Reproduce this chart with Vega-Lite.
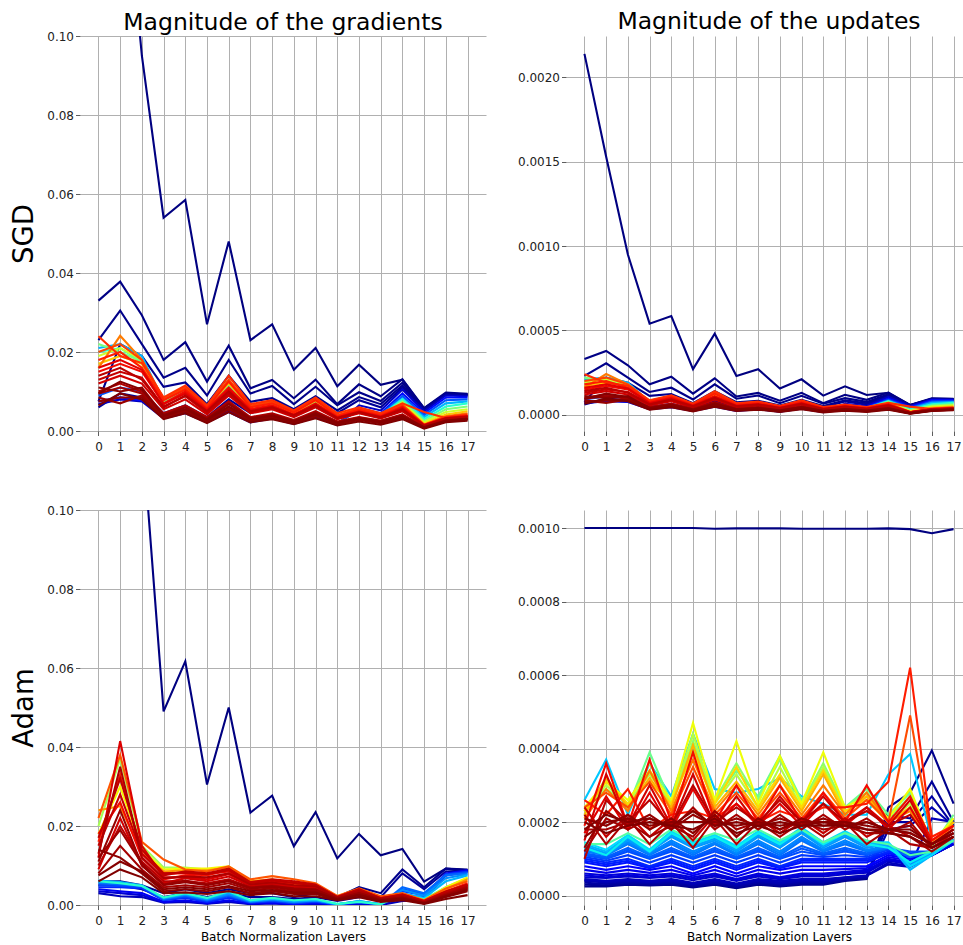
{
"$schema":"https://vega.github.io/schema/vega-lite/v6.json",
"background":"white",
"padding":{"left":10,"top":9,"right":0,"bottom":0},
"data":{"values":[
{"p":"gs","c":0,"x":[0,1,2,3,4,5,6,7,8,9,10,11,12,13,14,15,16,17],"y":[0.214,0.153,0.095,0.054,0.0585,0.027,0.048,0.023,0.027,0.0155,0.021,0.0113,0.0168,0.0117,0.013,0.0056,0.0093,0.0092]},
{"p":"gs","c":0.004,"x":[0,1,2,3,4,5,6,7,8,9,10,11,12,13,14,15,16,17],"y":[0.033,0.0378,0.0293,0.018,0.0225,0.0125,0.0216,0.0108,0.0129,0.0083,0.013,0.0068,0.0118,0.0088,0.0131,0.0058,0.0097,0.0094]},
{"p":"gs","c":0.008,"x":[0,1,2,3,4,5,6,7,8,9,10,11,12,13,14,15,16,17],"y":[0.023,0.0305,0.022,0.0135,0.016,0.009,0.018,0.0095,0.0114,0.0068,0.0112,0.0065,0.0098,0.0076,0.0122,0.0057,0.0095,0.0093]},
{"p":"gs","c":0.012,"x":[0,1,2,3,4,5,6,7,8,9,10,11,12,13,14,15,16,17],"y":[0.0075,0.022,0.019,0.0112,0.0123,0.0068,0.014,0.0074,0.0083,0.0055,0.0088,0.0052,0.0086,0.0068,0.0115,0.0055,0.0093,0.0092]},
{"p":"gs","c":0.02,"x":[0,1,2,3,4,5,6,7,8,9,10,11,12,13,14,15,16,17],"y":[0.006,0.0095,0.0085,0.0045,0.0065,0.0035,0.008,0.0045,0.006,0.0042,0.0075,0.0045,0.0078,0.006,0.011,0.0054,0.0092,0.009]},
{"p":"gs","c":0.06,"x":[0,1,2,3,4,5,6,7,8,9,10,11,12,13,14,15,16,17],"y":[0.0068,0.008,0.0075,0.0032,0.0045,0.0022,0.0048,0.0022,0.0032,0.0018,0.0035,0.0015,0.0065,0.0052,0.0105,0.005,0.009,0.0088]},
{"p":"gs","c":0.12,"x":[0,1,2,3,4,5,6,7,8,9,10,11,12,13,14,15,16,17],"y":[0.0075,0.0085,0.0078,0.004,0.005,0.0025,0.005,0.0025,0.0035,0.002,0.0038,0.0018,0.0058,0.0045,0.0095,0.0045,0.0085,0.0085]},
{"p":"gs","c":0.2,"x":[0,1,2,3,4,5,6,7,8,9,10,11,12,13,14,15,16,17],"y":[0.009,0.011,0.01,0.0045,0.0055,0.003,0.006,0.003,0.004,0.0025,0.0045,0.002,0.0052,0.0042,0.0088,0.004,0.0078,0.008]},
{"p":"gs","c":0.3,"x":[0,1,2,3,4,5,6,7,8,9,10,11,12,13,14,15,16,17],"y":[0.021,0.022,0.019,0.0075,0.0105,0.006,0.012,0.0058,0.007,0.0045,0.0075,0.0038,0.0055,0.004,0.0082,0.0035,0.007,0.0075]},
{"p":"gs","c":0.4,"x":[0,1,2,3,4,5,6,7,8,9,10,11,12,13,14,15,16,17],"y":[0.02,0.021,0.0175,0.007,0.01,0.0055,0.0115,0.0055,0.0068,0.0042,0.0072,0.0035,0.005,0.0038,0.008,0.003,0.0062,0.007]},
{"p":"gs","c":0.5,"x":[0,1,2,3,4,5,6,7,8,9,10,11,12,13,14,15,16,17],"y":[0.022,0.02,0.0175,0.0075,0.0105,0.006,0.012,0.006,0.007,0.0045,0.0075,0.0037,0.005,0.0038,0.0075,0.0025,0.0055,0.0062]},
{"p":"gs","c":0.6,"x":[0,1,2,3,4,5,6,7,8,9,10,11,12,13,14,15,16,17],"y":[0.019,0.021,0.018,0.008,0.011,0.0062,0.0125,0.0062,0.0072,0.0047,0.0078,0.0038,0.0052,0.004,0.0072,0.0022,0.0048,0.0055]},
{"p":"gs","c":0.7,"x":[0,1,2,3,4,5,6,7,8,9,10,11,12,13,14,15,16,17],"y":[0.017,0.019,0.017,0.0078,0.0108,0.006,0.012,0.006,0.007,0.0046,0.0077,0.0037,0.0055,0.0042,0.0068,0.0018,0.0042,0.005]},
{"p":"gs","c":0.78,"x":[0,1,2,3,4,5,6,7,8,9,10,11,12,13,14,15,16,17],"y":[0.016,0.0241,0.018,0.008,0.0112,0.006,0.0128,0.0062,0.0073,0.0048,0.008,0.0039,0.0056,0.0042,0.0065,0.0015,0.0037,0.0045]},
{"p":"gs","c":0.84,"x":[0,1,2,3,4,5,6,7,8,9,10,11,12,13,14,15,16,17],"y":[0.02,0.022,0.018,0.0082,0.011,0.0062,0.013,0.0064,0.0075,0.005,0.0082,0.004,0.0057,0.0043,0.0066,0.0016,0.0036,0.0042]},
{"p":"gs","c":0.86,"x":[0,1,2,3,4,5,6,7,8,9,10,11,12,13,14,15,16,17],"y":[0.024,0.019,0.0172,0.0085,0.0115,0.0065,0.014,0.0068,0.0078,0.0052,0.0085,0.0045,0.006,0.0045,0.007,0.0048,0.0033,0.0038]},
{"p":"gs","c":0.88,"x":[0,1,2,3,4,5,6,7,8,9,10,11,12,13,14,15,16,17],"y":[0.018,0.02,0.016,0.0078,0.0105,0.0058,0.0125,0.006,0.007,0.0047,0.0078,0.0038,0.0054,0.004,0.0062,0.0015,0.0034,0.004]},
{"p":"gs","c":0.9,"x":[0,1,2,3,4,5,6,7,8,9,10,11,12,13,14,15,16,17],"y":[0.015,0.017,0.015,0.007,0.01,0.0055,0.011,0.0055,0.0065,0.0042,0.007,0.0035,0.005,0.0037,0.006,0.0015,0.0033,0.0038]},
{"p":"gs","c":0.915,"x":[0,1,2,3,4,5,6,7,8,9,10,11,12,13,14,15,16,17],"y":[0.016,0.018,0.0155,0.0068,0.0095,0.0052,0.0105,0.0052,0.0062,0.004,0.0068,0.0034,0.0049,0.0036,0.0058,0.0014,0.0032,0.0037]},
{"p":"gs","c":0.93,"x":[0,1,2,3,4,5,6,7,8,9,10,11,12,13,14,15,16,17],"y":[0.012,0.014,0.012,0.0055,0.008,0.0042,0.009,0.0045,0.0055,0.0035,0.006,0.003,0.0045,0.0032,0.005,0.0012,0.003,0.0035]},
{"p":"gs","c":0.94,"x":[0,1,2,3,4,5,6,7,8,9,10,11,12,13,14,15,16,17],"y":[0.013,0.015,0.0135,0.0062,0.0088,0.0046,0.0095,0.0048,0.0058,0.0037,0.0062,0.0031,0.0046,0.0033,0.0052,0.0013,0.0031,0.0036]},
{"p":"gs","c":0.95,"x":[0,1,2,3,4,5,6,7,8,9,10,11,12,13,14,15,16,17],"y":[0.014,0.016,0.013,0.006,0.009,0.005,0.01,0.005,0.006,0.004,0.0065,0.0033,0.0048,0.0035,0.0055,0.0014,0.0032,0.0036]},
{"p":"gs","c":0.96,"x":[0,1,2,3,4,5,6,7,8,9,10,11,12,13,14,15,16,17],"y":[0.01,0.012,0.01,0.0045,0.0065,0.0035,0.0075,0.0035,0.0045,0.0028,0.005,0.0024,0.0035,0.0026,0.0042,0.001,0.0027,0.0032]},
{"p":"gs","c":0.97,"x":[0,1,2,3,4,5,6,7,8,9,10,11,12,13,14,15,16,17],"y":[0.0095,0.011,0.0095,0.0042,0.006,0.0032,0.007,0.0033,0.0042,0.0026,0.0047,0.0022,0.0034,0.0025,0.004,0.001,0.0027,0.0031]},
{"p":"gs","c":0.98,"x":[0,1,2,3,4,5,6,7,8,9,10,11,12,13,14,15,16,17],"y":[0.0085,0.007,0.009,0.0035,0.0052,0.0025,0.006,0.0028,0.0035,0.0022,0.004,0.0018,0.003,0.0021,0.0035,0.0008,0.0025,0.003]},
{"p":"gs","c":0.985,"x":[0,1,2,3,4,5,6,7,8,9,10,11,12,13,14,15,16,17],"y":[0.0075,0.0085,0.0085,0.0033,0.005,0.0023,0.0055,0.0026,0.0033,0.002,0.0037,0.0017,0.0028,0.002,0.0033,0.0008,0.0024,0.0029]},
{"p":"gs","c":0.99,"x":[0,1,2,3,4,5,6,7,8,9,10,11,12,13,14,15,16,17],"y":[0.011,0.01,0.011,0.004,0.006,0.003,0.0068,0.0032,0.004,0.0025,0.0045,0.0021,0.0033,0.0024,0.0038,0.0009,0.0026,0.0031]},
{"p":"gs","c":0.995,"x":[0,1,2,3,4,5,6,7,8,9,10,11,12,13,14,15,16,17],"y":[0.0095,0.0125,0.0105,0.0038,0.0055,0.0028,0.0062,0.003,0.0038,0.0023,0.0042,0.002,0.0031,0.0022,0.0036,0.0009,0.0025,0.003]},
{"p":"gs","c":1.0,"x":[0,1,2,3,4,5,6,7,8,9,10,11,12,13,14,15,16,17],"y":[0.0065,0.0095,0.008,0.003,0.0045,0.002,0.0048,0.0022,0.003,0.0017,0.0032,0.0014,0.0024,0.0016,0.003,0.0006,0.0022,0.0026]},
{"p":"us","c":0,"x":[0,1,2,3,4,5,6,7,8,9,10,11,12,13,14,15,16,17],"y":[0.00214,0.00153,0.00095,0.00054,0.000585,0.00027,0.00048,0.00023,0.00027,0.000155,0.00021,0.000113,0.000168,0.000117,0.00013,0.000056,0.000093,0.000092]},
{"p":"us","c":0.004,"x":[0,1,2,3,4,5,6,7,8,9,10,11,12,13,14,15,16,17],"y":[0.00033,0.000378,0.000293,0.00018,0.000225,0.000125,0.000216,0.000108,0.000129,0.000083,0.00013,0.000068,0.000118,0.000088,0.000131,0.000058,0.000097,0.000094]},
{"p":"us","c":0.008,"x":[0,1,2,3,4,5,6,7,8,9,10,11,12,13,14,15,16,17],"y":[0.00023,0.000305,0.00022,0.000135,0.00016,0.00009,0.00018,0.000095,0.000114,0.000068,0.000112,0.000065,0.000098,0.000076,0.000122,0.000057,0.000095,0.000093]},
{"p":"us","c":0.012,"x":[0,1,2,3,4,5,6,7,8,9,10,11,12,13,14,15,16,17],"y":[0.000075,0.00022,0.00019,0.000112,0.000123,0.000068,0.00014,0.000074,0.000083,0.000055,0.000088,0.000052,0.000086,0.000068,0.000115,0.000055,0.000093,0.000092]},
{"p":"us","c":0.02,"x":[0,1,2,3,4,5,6,7,8,9,10,11,12,13,14,15,16,17],"y":[0.00006,0.000095,0.000085,0.000045,0.000065,0.000035,0.00008,0.000045,0.00006,0.000042,0.000075,0.000045,0.000078,0.00006,0.00011,0.000054,0.000092,0.00009]},
{"p":"us","c":0.06,"x":[0,1,2,3,4,5,6,7,8,9,10,11,12,13,14,15,16,17],"y":[0.000068,0.00008,0.000075,0.000032,0.000045,0.000022,0.000048,0.000022,0.000032,0.000018,0.000035,0.000015,0.000065,0.000052,0.000105,0.00005,0.00009,0.000088]},
{"p":"us","c":0.12,"x":[0,1,2,3,4,5,6,7,8,9,10,11,12,13,14,15,16,17],"y":[0.000075,0.000085,0.000078,0.00004,0.00005,0.000025,0.00005,0.000025,0.000035,0.00002,0.000038,0.000018,0.000058,0.000045,0.000095,0.000045,0.000085,0.000085]},
{"p":"us","c":0.2,"x":[0,1,2,3,4,5,6,7,8,9,10,11,12,13,14,15,16,17],"y":[0.00009,0.00011,0.0001,0.000045,0.000055,0.00003,0.00006,0.00003,0.00004,0.000025,0.000045,0.00002,0.000052,0.000042,0.000088,0.00004,0.000078,0.00008]},
{"p":"us","c":0.3,"x":[0,1,2,3,4,5,6,7,8,9,10,11,12,13,14,15,16,17],"y":[0.00021,0.00022,0.00019,0.000075,0.000105,0.00006,0.00012,0.000058,0.00007,0.000045,0.000075,0.000038,0.000055,0.00004,0.000082,0.000035,0.00007,0.000075]},
{"p":"us","c":0.4,"x":[0,1,2,3,4,5,6,7,8,9,10,11,12,13,14,15,16,17],"y":[0.0002,0.00021,0.000175,0.00007,0.0001,0.000055,0.000115,0.000055,0.000068,0.000042,0.000072,0.000035,0.00005,0.000038,0.00008,0.00003,0.000062,0.00007]},
{"p":"us","c":0.5,"x":[0,1,2,3,4,5,6,7,8,9,10,11,12,13,14,15,16,17],"y":[0.00022,0.0002,0.000175,0.000075,0.000105,0.00006,0.00012,0.00006,0.00007,0.000045,0.000075,0.000037,0.00005,0.000038,0.000075,0.000025,0.000055,0.000062]},
{"p":"us","c":0.6,"x":[0,1,2,3,4,5,6,7,8,9,10,11,12,13,14,15,16,17],"y":[0.00019,0.00021,0.00018,0.00008,0.00011,0.000062,0.000125,0.000062,0.000072,0.000047,0.000078,0.000038,0.000052,0.00004,0.000072,0.000022,0.000048,0.000055]},
{"p":"us","c":0.7,"x":[0,1,2,3,4,5,6,7,8,9,10,11,12,13,14,15,16,17],"y":[0.00017,0.00019,0.00017,0.000078,0.000108,0.00006,0.00012,0.00006,0.00007,0.000046,0.000077,0.000037,0.000055,0.000042,0.000068,0.000018,0.000042,0.00005]},
{"p":"us","c":0.78,"x":[0,1,2,3,4,5,6,7,8,9,10,11,12,13,14,15,16,17],"y":[0.00016,0.000241,0.00018,0.00008,0.000112,0.00006,0.000128,0.000062,0.000073,0.000048,0.00008,0.000039,0.000056,0.000042,0.000065,0.000015,0.000037,0.000045]},
{"p":"us","c":0.84,"x":[0,1,2,3,4,5,6,7,8,9,10,11,12,13,14,15,16,17],"y":[0.0002,0.00022,0.00018,0.000082,0.00011,0.000062,0.00013,0.000064,0.000075,0.00005,0.000082,0.00004,0.000057,0.000043,0.000066,0.000016,0.000036,0.000042]},
{"p":"us","c":0.86,"x":[0,1,2,3,4,5,6,7,8,9,10,11,12,13,14,15,16,17],"y":[0.00024,0.00019,0.000172,0.000085,0.000115,0.000065,0.00014,0.000068,0.000078,0.000052,0.000085,0.000045,0.00006,0.000045,0.00007,0.000048,0.000033,0.000038]},
{"p":"us","c":0.88,"x":[0,1,2,3,4,5,6,7,8,9,10,11,12,13,14,15,16,17],"y":[0.00018,0.0002,0.00016,0.000078,0.000105,0.000058,0.000125,0.00006,0.00007,0.000047,0.000078,0.000038,0.000054,0.00004,0.000062,0.000015,0.000034,0.00004]},
{"p":"us","c":0.9,"x":[0,1,2,3,4,5,6,7,8,9,10,11,12,13,14,15,16,17],"y":[0.00015,0.00017,0.00015,0.00007,0.0001,0.000055,0.00011,0.000055,0.000065,0.000042,0.00007,0.000035,0.00005,0.000037,0.00006,0.000015,0.000033,0.000038]},
{"p":"us","c":0.915,"x":[0,1,2,3,4,5,6,7,8,9,10,11,12,13,14,15,16,17],"y":[0.00016,0.00018,0.000155,0.000068,0.000095,0.000052,0.000105,0.000052,0.000062,0.00004,0.000068,0.000034,0.000049,0.000036,0.000058,0.000014,0.000032,0.000037]},
{"p":"us","c":0.93,"x":[0,1,2,3,4,5,6,7,8,9,10,11,12,13,14,15,16,17],"y":[0.00012,0.00014,0.00012,0.000055,0.00008,0.000042,0.00009,0.000045,0.000055,0.000035,0.00006,0.00003,0.000045,0.000032,0.00005,0.000012,0.00003,0.000035]},
{"p":"us","c":0.94,"x":[0,1,2,3,4,5,6,7,8,9,10,11,12,13,14,15,16,17],"y":[0.00013,0.00015,0.000135,0.000062,0.000088,0.000046,0.000095,0.000048,0.000058,0.000037,0.000062,0.000031,0.000046,0.000033,0.000052,0.000013,0.000031,0.000036]},
{"p":"us","c":0.95,"x":[0,1,2,3,4,5,6,7,8,9,10,11,12,13,14,15,16,17],"y":[0.00014,0.00016,0.00013,0.00006,0.00009,0.00005,0.0001,0.00005,0.00006,0.00004,0.000065,0.000033,0.000048,0.000035,0.000055,0.000014,0.000032,0.000036]},
{"p":"us","c":0.96,"x":[0,1,2,3,4,5,6,7,8,9,10,11,12,13,14,15,16,17],"y":[0.0001,0.00012,0.0001,0.000045,0.000065,0.000035,0.000075,0.000035,0.000045,0.000028,0.00005,0.000024,0.000035,0.000026,0.000042,0.00001,0.000027,0.000032]},
{"p":"us","c":0.97,"x":[0,1,2,3,4,5,6,7,8,9,10,11,12,13,14,15,16,17],"y":[0.000095,0.00011,0.000095,0.000042,0.00006,0.000032,0.00007,0.000033,0.000042,0.000026,0.000047,0.000022,0.000034,0.000025,0.00004,0.00001,0.000027,0.000031]},
{"p":"us","c":0.98,"x":[0,1,2,3,4,5,6,7,8,9,10,11,12,13,14,15,16,17],"y":[0.000085,0.00007,0.00009,0.000035,0.000052,0.000025,0.00006,0.000028,0.000035,0.000022,0.00004,0.000018,0.00003,0.000021,0.000035,0.000008,0.000025,0.00003]},
{"p":"us","c":0.985,"x":[0,1,2,3,4,5,6,7,8,9,10,11,12,13,14,15,16,17],"y":[0.000075,0.000085,0.000085,0.000033,0.00005,0.000023,0.000055,0.000026,0.000033,0.00002,0.000037,0.000017,0.000028,0.00002,0.000033,0.000008,0.000024,0.000029]},
{"p":"us","c":0.99,"x":[0,1,2,3,4,5,6,7,8,9,10,11,12,13,14,15,16,17],"y":[0.00011,0.0001,0.00011,0.00004,0.00006,0.00003,0.000068,0.000032,0.00004,0.000025,0.000045,0.000021,0.000033,0.000024,0.000038,0.000009,0.000026,0.000031]},
{"p":"us","c":0.995,"x":[0,1,2,3,4,5,6,7,8,9,10,11,12,13,14,15,16,17],"y":[0.000095,0.000125,0.000105,0.000038,0.000055,0.000028,0.000062,0.00003,0.000038,0.000023,0.000042,0.00002,0.000031,0.000022,0.000036,0.000009,0.000025,0.00003]},
{"p":"us","c":1.0,"x":[0,1,2,3,4,5,6,7,8,9,10,11,12,13,14,15,16,17],"y":[0.000065,0.000095,0.00008,0.00003,0.000045,0.00002,0.000048,0.000022,0.00003,0.000017,0.000032,0.000014,0.000024,0.000016,0.00003,0.000006,0.000022,0.000026]},
{"p":"ga","c":0,"x":[0,1,2,3,4,5,6,7,8,9,10,11,12,13,14,15,16,17],"y":[0.21,0.16,0.121,0.049,0.0617,0.0305,0.05,0.0234,0.0277,0.0149,0.0235,0.0118,0.018,0.0126,0.0142,0.0059,0.0092,0.009]},
{"p":"ga","c":0.01,"x":[0,1,2,3,4,5,6,7,8,9,10,11,12,13,14,15,16,17],"y":[0.006,0.006,0.005,0.003,0.004,0.003,0.004,0.003,0.003,0.002,0.003,0.002,0.0045,0.003,0.009,0.0045,0.0092,0.0088]},
{"p":"ga","c":0.02,"x":[0,1,2,3,4,5,6,7,8,9,10,11,12,13,14,15,16,17],"y":[0.005,0.005,0.004,0.002,0.003,0.002,0.003,0.002,0.002,0.0015,0.002,0.001,0.002,0.002,0.008,0.004,0.0085,0.0088]},
{"p":"ga","c":0.05,"x":[0,1,2,3,4,5,6,7,8,9,10,11,12,13,14,15,16,17],"y":[0.003,0.0022,0.002,0.0006,0.0008,0.0003,0.0008,0.0002,0.0004,0.0001,0.0003,0,0.0003,0,0.001,0.0012,0.0075,0.0085]},
{"p":"ga","c":0.07,"x":[0,1,2,3,4,5,6,7,8,9,10,11,12,13,14,15,16,17],"y":[0.0035,0.003,0.0025,0.0007,0.001,0.0004,0.001,0.0003,0.0005,0.00015,0.0004,0.00005,0.0004,0.00005,0.0018,0.0016,0.0078,0.0087]},
{"p":"ga","c":0.1,"x":[0,1,2,3,4,5,6,7,8,9,10,11,12,13,14,15,16,17],"y":[0.004,0.0035,0.003,0.0008,0.0012,0.0005,0.0012,0.0004,0.0006,0.0002,0.0005,0.0001,0.0005,0.0001,0.0025,0.002,0.008,0.0088]},
{"p":"ga","c":0.15,"x":[0,1,2,3,4,5,6,7,8,9,10,11,12,13,14,15,16,17],"y":[0.0045,0.0045,0.0042,0.0012,0.0018,0.0008,0.0018,0.0006,0.0009,0.0004,0.0008,0.0001,0.0007,0.0002,0.0035,0.0025,0.0078,0.0085]},
{"p":"ga","c":0.18,"x":[0,1,2,3,4,5,6,7,8,9,10,11,12,13,14,15,16,17],"y":[0.005,0.0048,0.0045,0.0013,0.0021,0.001,0.0022,0.0007,0.0011,0.0005,0.0009,0.00015,0.0008,0.0002,0.004,0.0028,0.0077,0.0083]},
{"p":"ga","c":0.22,"x":[0,1,2,3,4,5,6,7,8,9,10,11,12,13,14,15,16,17],"y":[0.0055,0.0052,0.0048,0.0015,0.0024,0.0012,0.0025,0.0008,0.0013,0.0007,0.0011,0.0002,0.0009,0.0002,0.0045,0.003,0.0075,0.008]},
{"p":"ga","c":0.26,"x":[0,1,2,3,4,5,6,7,8,9,10,11,12,13,14,15,16,17],"y":[0.0058,0.0055,0.0049,0.0017,0.0026,0.0014,0.0028,0.0009,0.0014,0.0008,0.0012,0.0002,0.001,0.0002,0.0038,0.0024,0.0068,0.0078]},
{"p":"ga","c":0.3,"x":[0,1,2,3,4,5,6,7,8,9,10,11,12,13,14,15,16,17],"y":[0.0062,0.0058,0.005,0.0018,0.0028,0.0016,0.0032,0.001,0.0016,0.001,0.0013,0.0002,0.001,0.0002,0.003,0.0018,0.006,0.0075]},
{"p":"ga","c":0.4,"x":[0,1,2,3,4,5,6,7,8,9,10,11,12,13,14,15,16,17],"y":[0.006,0.0055,0.0048,0.0019,0.003,0.0018,0.0035,0.0012,0.0018,0.0012,0.0015,0.0003,0.0008,0.0002,0.0025,0.0015,0.0045,0.0068]},
{"p":"ga","c":0.55,"x":[0,1,2,3,4,5,6,7,8,9,10,11,12,13,14,15,16,17],"y":[0.02,0.037,0.015,0.0095,0.0095,0.009,0.0095,0.006,0.0055,0.005,0.005,0.002,0.0035,0.0018,0.0025,0.001,0.004,0.0068]},
{"p":"ga","c":0.65,"x":[0,1,2,3,4,5,6,7,8,9,10,11,12,13,14,15,16,17],"y":[0.018,0.03,0.014,0.009,0.0092,0.0092,0.0098,0.0062,0.006,0.0055,0.0052,0.0022,0.004,0.002,0.0028,0.0012,0.0045,0.007]},
{"p":"ga","c":0.75,"x":[0,1,2,3,4,5,6,7,8,9,10,11,12,13,14,15,16,17],"y":[0.024,0.025,0.013,0.0085,0.0088,0.0088,0.0095,0.006,0.0065,0.005,0.005,0.0021,0.0038,0.0019,0.0026,0.001,0.004,0.0065]},
{"p":"ga","c":0.82,"x":[0,1,2,3,4,5,6,7,8,9,10,11,12,13,14,15,16,17],"y":[0.022,0.038,0.016,0.0115,0.009,0.0085,0.0098,0.0065,0.0073,0.0065,0.0055,0.0023,0.0042,0.0022,0.003,0.0012,0.0042,0.006]},
{"p":"ga","c":0.88,"x":[0,1,2,3,4,5,6,7,8,9,10,11,12,13,14,15,16,17],"y":[0.016,0.033,0.013,0.008,0.008,0.0075,0.009,0.0055,0.006,0.0055,0.005,0.002,0.0038,0.0018,0.0025,0.001,0.0035,0.0055]},
{"p":"ga","c":0.9,"x":[0,1,2,3,4,5,6,7,8,9,10,11,12,13,14,15,16,17],"y":[0.018,0.026,0.012,0.0065,0.0075,0.0078,0.0085,0.0052,0.0058,0.005,0.0048,0.0019,0.0036,0.0016,0.0024,0.0009,0.0032,0.0052]},
{"p":"ga","c":0.92,"x":[0,1,2,3,4,5,6,7,8,9,10,11,12,13,14,15,16,17],"y":[0.012,0.0415,0.015,0.007,0.007,0.0065,0.0078,0.005,0.0055,0.0048,0.0045,0.0018,0.0035,0.0015,0.0022,0.0008,0.003,0.005]},
{"p":"ga","c":0.93,"x":[0,1,2,3,4,5,6,7,8,9,10,11,12,13,14,15,16,17],"y":[0.009,0.022,0.01,0.0055,0.0068,0.006,0.0072,0.0048,0.0052,0.0045,0.0042,0.0018,0.0032,0.0014,0.0021,0.0007,0.003,0.0048]},
{"p":"ga","c":0.94,"x":[0,1,2,3,4,5,6,7,8,9,10,11,12,13,14,15,16,17],"y":[0.015,0.028,0.013,0.0075,0.0085,0.008,0.0092,0.0058,0.0065,0.006,0.0052,0.002,0.004,0.0017,0.0027,0.0009,0.0033,0.005]},
{"p":"ga","c":0.945,"x":[0,1,2,3,4,5,6,7,8,9,10,11,12,13,14,15,16,17],"y":[0.017,0.032,0.014,0.008,0.0082,0.0078,0.0088,0.0056,0.0062,0.0056,0.005,0.002,0.0039,0.0017,0.0026,0.001,0.0034,0.0052]},
{"p":"ga","c":0.95,"x":[0,1,2,3,4,5,6,7,8,9,10,11,12,13,14,15,16,17],"y":[0.01,0.02,0.011,0.006,0.006,0.0055,0.0065,0.0045,0.005,0.004,0.004,0.0017,0.003,0.0013,0.002,0.0006,0.0028,0.0045]},
{"p":"ga","c":0.96,"x":[0,1,2,3,4,5,6,7,8,9,10,11,12,13,14,15,16,17],"y":[0.013,0.035,0.012,0.0068,0.0072,0.007,0.008,0.0052,0.0057,0.005,0.0047,0.0019,0.0036,0.0016,0.0023,0.0007,0.0029,0.0046]},
{"p":"ga","c":0.97,"x":[0,1,2,3,4,5,6,7,8,9,10,11,12,13,14,15,16,17],"y":[0.008,0.015,0.009,0.0045,0.005,0.0045,0.0055,0.0038,0.0042,0.0035,0.0035,0.0015,0.0028,0.0012,0.0018,0.0005,0.0025,0.0042]},
{"p":"ga","c":0.975,"x":[0,1,2,3,4,5,6,7,8,9,10,11,12,13,14,15,16,17],"y":[0.012,0.019,0.0105,0.0052,0.0062,0.0052,0.0062,0.0044,0.0048,0.0042,0.004,0.0016,0.0029,0.0012,0.0019,0.0006,0.0026,0.0043]},
{"p":"ga","c":0.98,"x":[0,1,2,3,4,5,6,7,8,9,10,11,12,13,14,15,16,17],"y":[0.011,0.024,0.01,0.005,0.0058,0.005,0.006,0.0042,0.0046,0.0038,0.0038,0.0016,0.0031,0.0013,0.0019,0.0005,0.0024,0.004]},
{"p":"ga","c":0.99,"x":[0,1,2,3,4,5,6,7,8,9,10,11,12,13,14,15,16,17],"y":[0.014,0.012,0.008,0.0035,0.004,0.0035,0.0045,0.003,0.0035,0.0028,0.0028,0.0013,0.0025,0.001,0.0015,0.0004,0.002,0.0035]},
{"p":"ga","c":0.995,"x":[0,1,2,3,4,5,6,7,8,9,10,11,12,13,14,15,16,17],"y":[0.0075,0.011,0.0085,0.004,0.0045,0.004,0.0048,0.0035,0.0038,0.0032,0.0032,0.0014,0.0026,0.0011,0.0016,0.0004,0.0022,0.0038]},
{"p":"ga","c":1.0,"x":[0,1,2,3,4,5,6,7,8,9,10,11,12,13,14,15,16,17],"y":[0.006,0.009,0.007,0.003,0.0032,0.0028,0.0035,0.0025,0.003,0.0022,0.0022,0.0012,0.002,0.0008,0.0012,0.0003,0.0015,0.0025]},
{"p":"ua","c":0,"x":[0,1,2,3,4,5,6,7,8,9,10,11,12,13,14,15,16,17],"y":[0.001,0.001,0.001,0.001,0.001,0.001,0.000998,0.000999,0.000999,0.000999,0.000998,0.000998,0.000998,0.000998,0.000999,0.000997,0.000986,0.000997]},
{"p":"ua","c":0.01,"x":[0,1,2,3,4,5,6,7,8,9,10,11,12,13,14,15,16,17],"y":[0.000025,0.000025,0.00003,0.000028,0.00003,0.000022,0.00003,0.00002,0.00003,0.000025,0.00003,0.00003,0.00004,0.000045,0.00024,0.00028,0.000395,0.00025]},
{"p":"ua","c":0.02,"x":[0,1,2,3,4,5,6,7,8,9,10,11,12,13,14,15,16,17],"y":[0.00003,0.000028,0.000032,0.00003,0.000033,0.000025,0.000033,0.000023,0.000033,0.000028,0.000033,0.000032,0.000042,0.000048,0.00022,0.00021,0.00031,0.0002]},
{"p":"ua","c":0.03,"x":[0,1,2,3,4,5,6,7,8,9,10,11,12,13,14,15,16,17],"y":[0.000035,0.000032,0.000036,0.000033,0.000036,0.000028,0.000036,0.000026,0.000036,0.00003,0.000036,0.000035,0.000045,0.00005,0.0002,0.0002,0.00027,0.00019]},
{"p":"ua","c":0.04,"x":[0,1,2,3,4,5,6,7,8,9,10,11,12,13,14,15,16,17],"y":[0.00004,0.000036,0.00004,0.000036,0.00004,0.000031,0.00004,0.000029,0.00004,0.000033,0.00004,0.000038,0.000048,0.000052,0.00018,0.00019,0.00024,0.00019]},
{"p":"ua","c":0.045,"x":[0,1,2,3,4,5,6,7,8,9,10,11,12,13,14,15,16,17],"y":[0.000042,0.000038,0.000042,0.000038,0.000042,0.000033,0.000042,0.000031,0.000042,0.000036,0.000042,0.000042,0.000049,0.000054,0.000085,0.000078,0.00011,0.00014]},
{"p":"ua","c":0.05,"x":[0,1,2,3,4,5,6,7,8,9,10,11,12,13,14,15,16,17],"y":[0.000045,0.00004,0.000045,0.00004,0.000045,0.000035,0.000045,0.000033,0.000045,0.00004,0.000045,0.000045,0.00005,0.000055,0.00009,0.00008,0.00021,0.0002]},
{"p":"ua","c":0.065,"x":[0,1,2,3,4,5,6,7,8,9,10,11,12,13,14,15,16,17],"y":[0.00005,0.000048,0.000052,0.000048,0.000052,0.000042,0.000052,0.00004,0.000052,0.000045,0.000052,0.000052,0.000058,0.000062,0.000095,0.000085,0.00011,0.00014]},
{"p":"ua","c":0.075,"x":[0,1,2,3,4,5,6,7,8,9,10,11,12,13,14,15,16,17],"y":[0.000055,0.00005,0.000056,0.00005,0.000056,0.000046,0.000056,0.000042,0.000056,0.000048,0.000056,0.000056,0.000062,0.000066,0.000098,0.000088,0.00011,0.00014]},
{"p":"ua","c":0.08,"x":[0,1,2,3,4,5,6,7,8,9,10,11,12,13,14,15,16,17],"y":[0.00006,0.000055,0.00006,0.000055,0.00006,0.00005,0.00006,0.000045,0.00006,0.00005,0.00006,0.00006,0.000065,0.00007,0.0001,0.00009,0.00011,0.00014]},
{"p":"ua","c":0.095,"x":[0,1,2,3,4,5,6,7,8,9,10,11,12,13,14,15,16,17],"y":[0.00007,0.000062,0.00007,0.000062,0.00007,0.000055,0.00007,0.000052,0.00007,0.00006,0.00007,0.00007,0.000072,0.000075,0.000105,0.000095,0.000115,0.000145]},
{"p":"ua","c":0.11,"x":[0,1,2,3,4,5,6,7,8,9,10,11,12,13,14,15,16,17],"y":[0.00008,0.00007,0.00008,0.00007,0.00008,0.00006,0.00008,0.00006,0.00008,0.00007,0.00008,0.00008,0.00008,0.00008,0.00011,0.0001,0.00012,0.00015]},
{"p":"ua","c":0.13,"x":[0,1,2,3,4,5,6,7,8,9,10,11,12,13,14,15,16,17],"y":[0.00009,0.00008,0.00009,0.000075,0.00009,0.00007,0.00009,0.00007,0.00009,0.000075,0.00009,0.00009,0.00009,0.00009,0.000115,0.000105,0.00012,0.00015]},
{"p":"ua","c":0.14,"x":[0,1,2,3,4,5,6,7,8,9,10,11,12,13,14,15,16,17],"y":[0.000095,0.000085,0.000095,0.000078,0.000095,0.000075,0.000095,0.000075,0.000095,0.000078,0.000095,0.000095,0.000095,0.000095,0.000118,0.000108,0.00012,0.00015]},
{"p":"ua","c":0.15,"x":[0,1,2,3,4,5,6,7,8,9,10,11,12,13,14,15,16,17],"y":[0.0001,0.00009,0.0001,0.00008,0.0001,0.00008,0.0001,0.00008,0.0001,0.00008,0.0001,0.0001,0.0001,0.0001,0.00012,0.00011,0.00012,0.00015]},
{"p":"ua","c":0.17,"x":[0,1,2,3,4,5,6,7,8,9,10,11,12,13,14,15,16,17],"y":[0.000105,0.000095,0.00011,0.00009,0.00011,0.00009,0.00011,0.00009,0.00011,0.00009,0.00011,0.000105,0.00011,0.000105,0.000125,0.000115,0.00012,0.00015]},
{"p":"ua","c":0.19,"x":[0,1,2,3,4,5,6,7,8,9,10,11,12,13,14,15,16,17],"y":[0.00011,0.0001,0.00012,0.0001,0.00012,0.0001,0.00012,0.0001,0.00012,0.0001,0.00012,0.00011,0.00012,0.00011,0.00013,0.00012,0.00012,0.00015]},
{"p":"ua","c":0.2,"x":[0,1,2,3,4,5,6,7,8,9,10,11,12,13,14,15,16,17],"y":[0.000112,0.000102,0.000125,0.000102,0.000125,0.000102,0.000125,0.000102,0.000125,0.000102,0.000128,0.000112,0.000125,0.000112,0.000128,0.00011,0.00012,0.00015]},
{"p":"ua","c":0.21,"x":[0,1,2,3,4,5,6,7,8,9,10,11,12,13,14,15,16,17],"y":[0.000115,0.000105,0.00013,0.000105,0.00013,0.000105,0.00013,0.000105,0.00013,0.000105,0.000135,0.000115,0.00013,0.000115,0.00013,0.000105,0.00012,0.00015]},
{"p":"ua","c":0.23,"x":[0,1,2,3,4,5,6,7,8,9,10,11,12,13,14,15,16,17],"y":[0.00012,0.00011,0.00014,0.00011,0.00014,0.00011,0.00014,0.00011,0.00014,0.00011,0.00015,0.00012,0.00014,0.00012,0.00013,0.00009,0.00012,0.00015]},
{"p":"ua","c":0.24,"x":[0,1,2,3,4,5,6,7,8,9,10,11,12,13,14,15,16,17],"y":[0.000122,0.00011,0.000142,0.000112,0.000145,0.000115,0.000142,0.000112,0.000145,0.000115,0.000155,0.000122,0.000145,0.000122,0.000132,0.000088,0.00012,0.00015]},
{"p":"ua","c":0.25,"x":[0,1,2,3,4,5,6,7,8,9,10,11,12,13,14,15,16,17],"y":[0.000125,0.00011,0.000145,0.000115,0.00015,0.00012,0.000145,0.000115,0.00015,0.00012,0.00016,0.000125,0.00015,0.000125,0.000135,0.000085,0.00012,0.00015]},
{"p":"ua","c":0.27,"x":[0,1,2,3,4,5,6,7,8,9,10,11,12,13,14,15,16,17],"y":[0.00013,0.00011,0.00015,0.00012,0.00016,0.00013,0.00015,0.00012,0.00016,0.00013,0.00017,0.00013,0.00016,0.00013,0.00014,0.00008,0.00012,0.00015]},
{"p":"ua","c":0.28,"x":[0,1,2,3,4,5,6,7,8,9,10,11,12,13,14,15,16,17],"y":[0.000135,0.000115,0.000155,0.000118,0.000165,0.000135,0.000155,0.000125,0.000165,0.000135,0.000175,0.000135,0.000165,0.000135,0.00014,0.000078,0.000115,0.00015]},
{"p":"ua","c":0.3,"x":[0,1,2,3,4,5,6,7,8,9,10,11,12,13,14,15,16,17],"y":[0.00014,0.00012,0.00016,0.00012,0.00017,0.00014,0.00016,0.00013,0.00017,0.00014,0.00018,0.00014,0.00017,0.00014,0.00014,0.00007,0.00011,0.00015]},
{"p":"ua","c":0.32,"x":[0,1,2,3,4,5,6,7,8,9,10,11,12,13,14,15,16,17],"y":[0.00026,0.00037,0.00022,0.00036,0.00027,0.00044,0.00029,0.00028,0.00029,0.00032,0.00027,0.00025,0.00022,0.00022,0.00033,0.000385,0.00015,0.00017]},
{"p":"ua","c":0.34,"x":[0,1,2,3,4,5,6,7,8,9,10,11,12,13,14,15,16,17],"y":[0.000145,0.000125,0.000165,0.000125,0.000175,0.000145,0.000165,0.000135,0.000175,0.000145,0.000185,0.000145,0.000175,0.000145,0.000145,0.00008,0.00011,0.00015]},
{"p":"ua","c":0.36,"x":[0,1,2,3,4,5,6,7,8,9,10,11,12,13,14,15,16,17],"y":[0.00013,0.00011,0.00016,0.00012,0.00017,0.00014,0.00016,0.00013,0.00017,0.00014,0.00018,0.00014,0.00017,0.00014,0.00013,0.00009,0.00012,0.00016]},
{"p":"ua","c":0.45,"x":[0,1,2,3,4,5,6,7,8,9,10,11,12,13,14,15,16,17],"y":[0.00014,0.00014,0.00017,0.00014,0.00018,0.00015,0.00017,0.00015,0.00018,0.00015,0.00018,0.000145,0.00017,0.00015,0.00014,0.00011,0.00012,0.00015]},
{"p":"ua","c":0.48,"x":[0,1,2,3,4,5,6,7,8,9,10,11,12,13,14,15,16,17],"y":[0.00022,0.00032,0.00024,0.00039,0.00025,0.0004,0.00026,0.00034,0.00027,0.00038,0.00026,0.00034,0.00024,0.00029,0.00022,0.00028,0.00013,0.00022]},
{"p":"ua","c":0.52,"x":[0,1,2,3,4,5,6,7,8,9,10,11,12,13,14,15,16,17],"y":[0.00023,0.00029,0.00025,0.00036,0.00025,0.00042,0.00026,0.00036,0.00026,0.00037,0.00025,0.00036,0.00024,0.00028,0.00021,0.00027,0.00014,0.00021]},
{"p":"ua","c":0.57,"x":[0,1,2,3,4,5,6,7,8,9,10,11,12,13,14,15,16,17],"y":[0.00023,0.0003,0.00025,0.00033,0.00025,0.00044,0.00025,0.00033,0.00024,0.00035,0.00024,0.00035,0.00023,0.00026,0.0002,0.00025,0.00014,0.0002]},
{"p":"ua","c":0.64,"x":[0,1,2,3,4,5,6,7,8,9,10,11,12,13,14,15,16,17],"y":[0.00024,0.00031,0.00026,0.00034,0.00026,0.00047,0.00026,0.00042,0.00025,0.00038,0.00025,0.00039,0.00024,0.00027,0.00021,0.00029,0.00014,0.00021]},
{"p":"ua","c":0.68,"x":[0,1,2,3,4,5,6,7,8,9,10,11,12,13,14,15,16,17],"y":[0.00023,0.00031,0.00025,0.00031,0.00025,0.00039,0.00025,0.00035,0.00024,0.00033,0.00024,0.00034,0.00023,0.00026,0.0002,0.00024,0.00014,0.0002]},
{"p":"ua","c":0.72,"x":[0,1,2,3,4,5,6,7,8,9,10,11,12,13,14,15,16,17],"y":[0.00022,0.00032,0.00024,0.00032,0.00024,0.00041,0.00024,0.00031,0.00023,0.00032,0.00023,0.00033,0.00022,0.00027,0.0002,0.00024,0.00014,0.0002]},
{"p":"ua","c":0.78,"x":[0,1,2,3,4,5,6,7,8,9,10,11,12,13,14,15,16,17],"y":[0.00021,0.00029,0.00023,0.00034,0.00023,0.00037,0.00023,0.0003,0.00022,0.0003,0.00022,0.0003,0.00022,0.00028,0.0002,0.00023,0.00014,0.00019]},
{"p":"ua","c":0.83,"x":[0,1,2,3,4,5,6,7,8,9,10,11,12,13,14,15,16,17],"y":[0.00024,0.00028,0.00024,0.00031,0.00022,0.00035,0.00022,0.00028,0.00021,0.00028,0.00021,0.00028,0.00021,0.00026,0.0002,0.00049,0.00015,0.00019]},
{"p":"ua","c":0.88,"x":[0,1,2,3,4,5,6,7,8,9,10,11,12,13,14,15,16,17],"y":[0.00026,0.00022,0.00029,0.00018,0.00022,0.00023,0.00021,0.00025,0.0002,0.00023,0.00021,0.00024,0.00024,0.00025,0.00031,0.00062,0.00016,0.00019]},
{"p":"ua","c":0.9,"x":[0,1,2,3,4,5,6,7,8,9,10,11,12,13,14,15,16,17],"y":[0.00019,0.00036,0.00019,0.00037,0.0002,0.00039,0.0002,0.0003,0.0002,0.0003,0.0002,0.00028,0.0002,0.0003,0.0002,0.00027,0.00015,0.00019]},
{"p":"ua","c":0.915,"x":[0,1,2,3,4,5,6,7,8,9,10,11,12,13,14,15,16,17],"y":[0.00017,0.00027,0.00018,0.00028,0.00018,0.00029,0.00019,0.00025,0.00019,0.00025,0.00019,0.00025,0.00019,0.00024,0.00018,0.00024,0.00014,0.00018]},
{"p":"ua","c":0.93,"x":[0,1,2,3,4,5,6,7,8,9,10,11,12,13,14,15,16,17],"y":[0.00015,0.00033,0.00019,0.0003,0.00019,0.00033,0.00019,0.00027,0.00019,0.00027,0.0002,0.00027,0.0002,0.00024,0.00019,0.00026,0.00014,0.00018]},
{"p":"ua","c":0.94,"x":[0,1,2,3,4,5,6,7,8,9,10,11,12,13,14,15,16,17],"y":[0.00024,0.00016,0.00022,0.00016,0.00021,0.00015,0.00022,0.00016,0.00021,0.00017,0.00021,0.00017,0.00021,0.00016,0.00019,0.00016,0.00013,0.00017]},
{"p":"ua","c":0.95,"x":[0,1,2,3,4,5,6,7,8,9,10,11,12,13,14,15,16,17],"y":[0.0001,0.00026,0.0002,0.00026,0.00019,0.0003,0.0002,0.00024,0.0002,0.00026,0.0002,0.00025,0.0002,0.00023,0.00019,0.00022,0.00014,0.00017]},
{"p":"ua","c":0.96,"x":[0,1,2,3,4,5,6,7,8,9,10,11,12,13,14,15,16,17],"y":[0.00022,0.00014,0.00021,0.00014,0.0002,0.00013,0.00021,0.00014,0.0002,0.00016,0.0002,0.00016,0.0002,0.00014,0.00018,0.00014,0.00013,0.00016]},
{"p":"ua","c":0.965,"x":[0,1,2,3,4,5,6,7,8,9,10,11,12,13,14,15,16,17],"y":[0.00012,0.00021,0.00018,0.00021,0.00018,0.00024,0.00018,0.00022,0.00018,0.00022,0.00018,0.00022,0.00018,0.00021,0.00017,0.0002,0.00013,0.00016]},
{"p":"ua","c":0.97,"x":[0,1,2,3,4,5,6,7,8,9,10,11,12,13,14,15,16,17],"y":[0.00018,0.00018,0.0002,0.00016,0.00019,0.00016,0.00023,0.00018,0.0002,0.00018,0.0002,0.00018,0.00019,0.00017,0.00017,0.00016,0.00012,0.00016]},
{"p":"ua","c":0.98,"x":[0,1,2,3,4,5,6,7,8,9,10,11,12,13,14,15,16,17],"y":[0.00013,0.00023,0.00019,0.00022,0.00018,0.00022,0.00019,0.00021,0.00019,0.00021,0.00019,0.00021,0.00019,0.0002,0.00018,0.00019,0.00013,0.00016]},
{"p":"ua","c":0.985,"x":[0,1,2,3,4,5,6,7,8,9,10,11,12,13,14,15,16,17],"y":[0.00021,0.00019,0.00022,0.00018,0.00021,0.00017,0.00022,0.00016,0.00021,0.00018,0.00021,0.00019,0.0002,0.00018,0.00018,0.00017,0.00014,0.00018]},
{"p":"ua","c":0.99,"x":[0,1,2,3,4,5,6,7,8,9,10,11,12,13,14,15,16,17],"y":[0.00016,0.0002,0.00021,0.00019,0.0002,0.0002,0.0002,0.00019,0.0002,0.00019,0.0002,0.0002,0.0002,0.00019,0.00018,0.00017,0.00014,0.00017]},
{"p":"ua","c":0.995,"x":[0,1,2,3,4,5,6,7,8,9,10,11,12,13,14,15,16,17],"y":[0.00018,0.00022,0.0002,0.00021,0.00019,0.00023,0.00019,0.0002,0.00019,0.0002,0.00019,0.0002,0.00019,0.0002,0.00018,0.00018,0.00014,0.00017]},
{"p":"ua","c":1.0,"x":[0,1,2,3,4,5,6,7,8,9,10,11,12,13,14,15,16,17],"y":[0.0002,0.00017,0.00019,0.0002,0.00019,0.00018,0.00021,0.00017,0.00019,0.00017,0.00019,0.00019,0.00019,0.00018,0.00017,0.00016,0.00013,0.00016]}
]},
"transform":[{"flatten":["x","y"]}],
"spacing":52,
"vconcat":[
{"spacing":31,"hconcat":[
{"width":406,"height":395,"title":{"text":"Magnitude of the gradients","offset":-4},
"transform":[{"filter":"datum.p==='gs'"}],
"mark":{"type":"line","clip":true,"strokeWidth":2.1},
"encoding":{
"x":{"field":"x","type":"quantitative","scale":{"domain":[-0.85,17.85],"nice":false,"zero":false},"axis":{"values":[0,1,2,3,4,5,6,7,8,9,10,11,12,13,14,15,16,17],"format":"d","title":null,"labelFlush":false}},
"y":{"field":"y","type":"quantitative","scale":{"domain":[0,0.1],"nice":false,"zero":false},"axis":{"values":[0,0.02,0.04,0.06,0.08,0.1],"format":".2f","title":"SGD","titleFontSize":27.5,"titlePadding":8}},
"color":{"field":"c","type":"quantitative","legend":null,"scale":{"domain":[0,0.11,0.34,0.35,0.375,0.64,0.65,0.66,0.89,0.91,1],"range":["#000080","#0000ff","#00dbff","#00e6f7","#15ffe2","#eeff08","#f7f600","#ffec00","#ff1300","#e80000","#800000"],"interpolate":"rgb"}}}},
{"width":406,"height":395,"title":{"text":"Magnitude of the updates","offset":3},
"transform":[{"filter":"datum.p==='us'"}],
"mark":{"type":"line","clip":true,"strokeWidth":2.1},
"encoding":{
"x":{"field":"x","type":"quantitative","scale":{"domain":[-0.85,17.85],"nice":false,"zero":false},"axis":{"values":[0,1,2,3,4,5,6,7,8,9,10,11,12,13,14,15,16,17],"format":"d","title":null,"labelFlush":false}},
"y":{"field":"y","type":"quantitative","scale":{"domain":[-0.0000967,0.002246],"nice":false,"zero":false},"axis":{"values":[0,0.0005,0.001,0.0015,0.002],"format":".4f","title":null}},
"color":{"field":"c","type":"quantitative","legend":null,"scale":{"domain":[0,0.11,0.34,0.35,0.375,0.64,0.65,0.66,0.89,0.91,1],"range":["#000080","#0000ff","#00dbff","#00e6f7","#15ffe2","#eeff08","#f7f600","#ffec00","#ff1300","#e80000","#800000"],"interpolate":"rgb"}}}}
]},
{"spacing":31,"hconcat":[
{"width":406,"height":395,
"transform":[{"filter":"datum.p==='ga'"}],
"mark":{"type":"line","clip":true,"strokeWidth":2.1},
"encoding":{
"x":{"field":"x","type":"quantitative","scale":{"domain":[-0.85,17.85],"nice":false,"zero":false},"axis":{"values":[0,1,2,3,4,5,6,7,8,9,10,11,12,13,14,15,16,17],"format":"d","title":"Batch Normalization Layers","labelFlush":false}},
"y":{"field":"y","type":"quantitative","scale":{"domain":[0,0.1],"nice":false,"zero":false},"axis":{"values":[0,0.02,0.04,0.06,0.08,0.1],"format":".2f","title":"Adam","titleFontSize":27.5,"titlePadding":8}},
"color":{"field":"c","type":"quantitative","legend":null,"scale":{"domain":[0,0.11,0.34,0.35,0.375,0.64,0.65,0.66,0.89,0.91,1],"range":["#000080","#0000ff","#00dbff","#00e6f7","#15ffe2","#eeff08","#f7f600","#ffec00","#ff1300","#e80000","#800000"],"interpolate":"rgb"}}}},
{"width":406,"height":395,
"transform":[{"filter":"datum.p==='ua'"}],
"mark":{"type":"line","clip":true,"strokeWidth":2.1},
"encoding":{
"x":{"field":"x","type":"quantitative","scale":{"domain":[-0.85,17.85],"nice":false,"zero":false},"axis":{"values":[0,1,2,3,4,5,6,7,8,9,10,11,12,13,14,15,16,17],"format":"d","title":"Batch Normalization Layers","labelFlush":false}},
"y":{"field":"y","type":"quantitative","scale":{"domain":[-0.0000255,0.001049],"nice":false,"zero":false},"axis":{"values":[0,0.0002,0.0004,0.0006,0.0008,0.001],"format":".4f","title":null}},
"color":{"field":"c","type":"quantitative","legend":null,"scale":{"domain":[0,0.11,0.34,0.35,0.375,0.64,0.65,0.66,0.89,0.91,1],"range":["#000080","#0000ff","#00dbff","#00e6f7","#15ffe2","#eeff08","#f7f600","#ffec00","#ff1300","#e80000","#800000"],"interpolate":"rgb"}}}}
]}
],
"config":{
"font":"DejaVu Sans",
"view":{"stroke":null},
"axis":{"domain":false,"grid":true,"gridColor":"#b0b0b0","gridWidth":1,"labelFontSize":12,"labelColor":"#222","labelFont":"DejaVu Sans","tickColor":"#333","tickSize":4.5,"tickWidth":0.8,"labelPadding":2,"titleFontWeight":"normal","titleColor":"#000","titleFont":"DejaVu Sans","titleFontSize":12,"titlePadding":5},
"axisX":{"labelPadding":5.5},
"title":{"fontSize":23.5,"fontWeight":"normal","color":"#000","font":"DejaVu Sans"}
}
}
